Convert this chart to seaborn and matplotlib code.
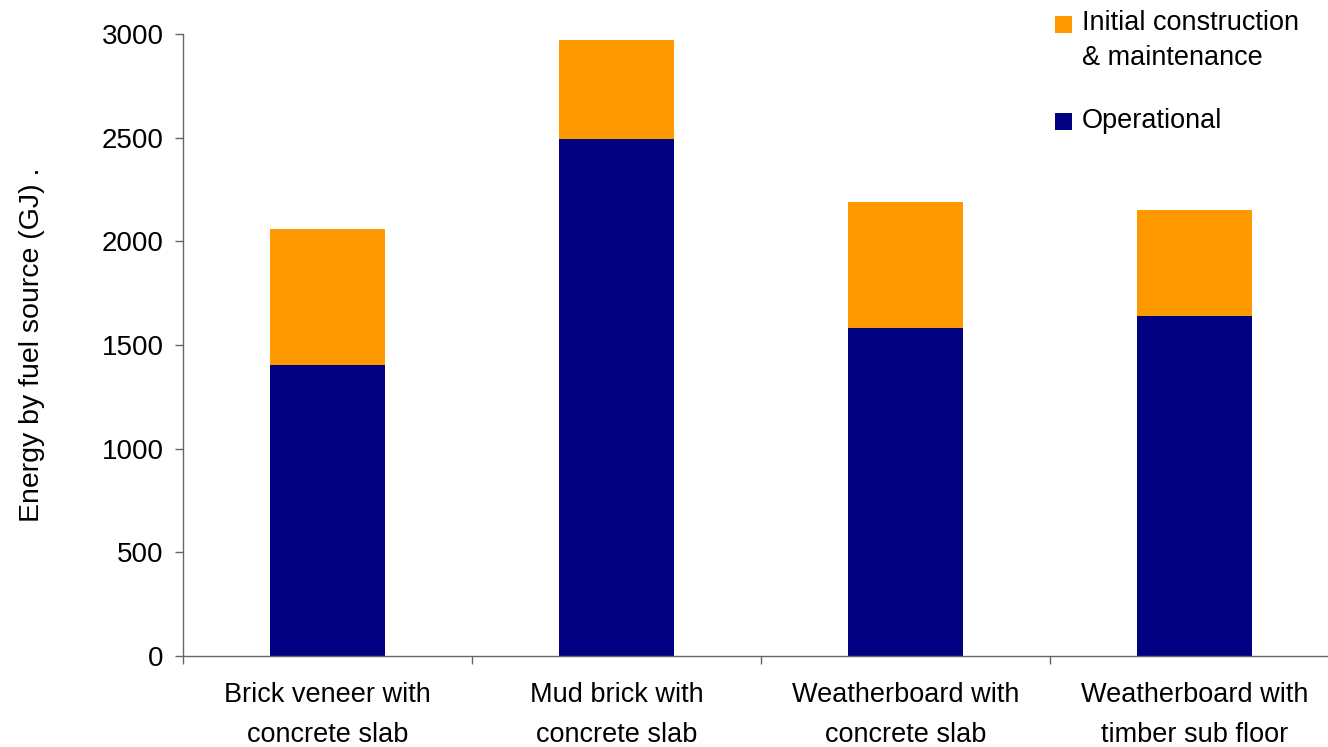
import matplotlib
matplotlib.use("Agg")
import matplotlib.pyplot as plt
from matplotlib.patches import Rectangle
import numpy as np
import pandas as pd
import seaborn as sns

# Life-cycle energy of four house types, split by fuel source (GJ)
categories = [
    "Brick veneer with\nconcrete slab",
    "Mud brick with\nconcrete slab",
    "Weatherboard with\nconcrete slab",
    "Weatherboard with\ntimber sub floor",
]
operational = [1405, 2495, 1580, 1640]
construction = [655, 475, 610, 510]
legend_lines = [["Initial construction", "& maintenance"], ["Operational"]]
y_ticks = [0, 500, 1000, 1500, 2000, 2500, 3000]

ORANGE = "#FF9900"
NAVY = "#000080"
AXIS_GRAY = "#666666"

sns.set_theme(style="white")
plt.rcParams["font.family"] = ["Liberation Sans", "DejaVu Sans"]
plt.rcParams["text.color"] = "black"
plt.rcParams["axes.labelcolor"] = "black"
plt.rcParams["xtick.color"] = "black"
plt.rcParams["ytick.color"] = "black"
FS = 19.5

df = pd.DataFrame({
    "house": categories,
    "operational": operational,
    "total": np.array(operational) + np.array(construction),
})

fig = plt.figure(figsize=(13.28, 7.47), dpi=100)
ax = fig.add_axes([183 / 1328, 1 - 656 / 747, 1156 / 1328, 622 / 747])

# Stacked bars: full height in orange, operational part overlaid in navy
sns.barplot(data=df, x="house", y="total", color=ORANGE, width=0.4,
            saturation=1, ax=ax, edgecolor="none", linewidth=0)
sns.barplot(data=df, x="house", y="operational", color=NAVY, width=0.4,
            saturation=1, ax=ax, edgecolor="none", linewidth=0)

ax.set_xlim(-0.5, 3.5)
ax.set_ylim(0, 3000)
ax.set_yticks(y_ticks)
ax.set_yticklabels([str(v) for v in y_ticks], fontsize=20)

# Category labels centred, tick marks on the category boundaries
ax.set_xticks(range(len(categories)))
ax.set_xticklabels(categories, fontsize=FS, linespacing=1.68)
ax.set_xticks(np.arange(-0.5, 3.0, 1.0), minor=True)
ax.tick_params(axis="x", which="major", length=0, pad=19)
ax.tick_params(axis="x", which="minor", length=6, width=1, color=AXIS_GRAY,
               direction="out", bottom=True)
ax.tick_params(axis="y", length=6, width=1, color=AXIS_GRAY, direction="out",
               left=True, pad=8)

ax.set_xlabel("")
ax.set_ylabel("Energy by fuel source (GJ) .", fontsize=20.5)
ax.yaxis.set_label_coords(-0.119, 0.5)

for side in ["top", "right"]:
    ax.spines[side].set_visible(False)
for side in ["left", "bottom"]:
    ax.spines[side].set_color(AXIS_GRAY)
    ax.spines[side].set_linewidth(1)

# Legend drawn as figure-level squares and text lines
W, H = 1328, 747
legend_items = [
    (16, ORANGE, legend_lines[0], [30, 65]),
    (113, NAVY, legend_lines[1], [128]),
]
for y_top, color, lines, baselines in legend_items:
    fig.patches.append(Rectangle((1055 / W, 1 - (y_top + 17) / H), 17 / W, 17 / H,
                                 transform=fig.transFigure, facecolor=color,
                                 edgecolor="none"))
    for line, base in zip(lines, baselines):
        fig.text(1082 / W, 1 - base / H, line, fontsize=FS, ha="left",
                 va="baseline")

fig.savefig("out.png", dpi=100)
